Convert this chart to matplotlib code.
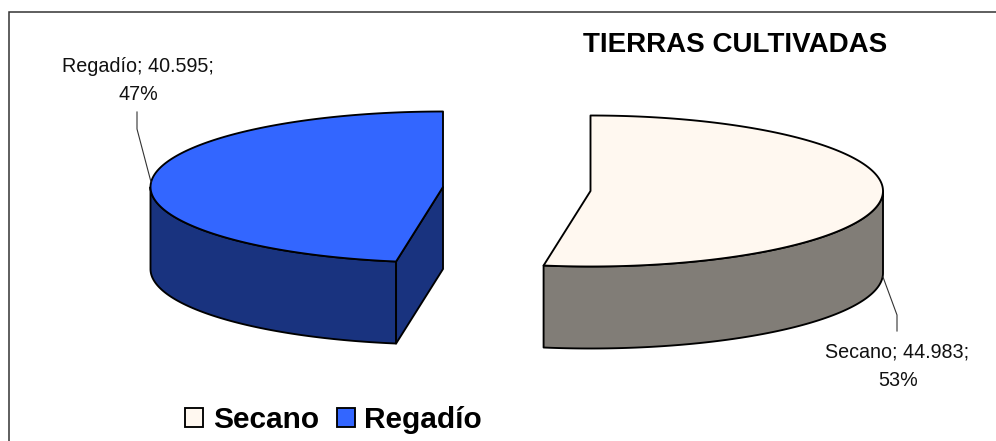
import numpy as np
import matplotlib
matplotlib.use("Agg")
import matplotlib.pyplot as plt
from matplotlib.patches import Polygon, Patch

# ---- data ----
categories = ["Secano", "Regadío"]
values = [44983, 40595]
value_labels = ["44.983", "40.595"]
percent_labels = ["53%", "47%"]
title = "TIERRAS CULTIVADAS"

# ---- style ----
top_colors = {"Secano": "#FFF8F0", "Regadío": "#3366FF"}
side_colors = {"Secano": "#817D77", "Regadío": "#19337F"}
centers = {"Secano": (590.5, 191.0), "Regadío": (443.0, 187.0)}
RX, RY, DEPTH = 292.5, 75.5, 82.0
EDGE = "#000000"
LW = 1.35

plt.rcParams["font.family"] = ["Liberation Sans", "DejaVu Sans"]
fig = plt.figure(figsize=(9.96, 4.41), dpi=100, facecolor="white")
ax = fig.add_axes([0, 0, 1, 1])
ax.set_xlim(0, 996)
ax.set_ylim(441, 0)
ax.axis("off")

# chart frame: only left and top edges are in view
ax.plot([8.5, 8.5, 996], [441, 12, 12], color="#333333", lw=1.1, solid_joinstyle="miter", clip_on=False)


def pt(center, t_deg, dz=0.0):
    t = np.radians(t_deg)
    return center[0] + RX * np.sin(t), center[1] - RY * np.cos(t) + dz


def arc(center, t0, t1, dz=0.0):
    ts = np.linspace(t0, t1, 160)
    x, y = pt(center, ts, dz)
    return np.column_stack([x, y])


total = sum(values)
boundary = 360.0 * values[0] / total

# ---- Secano: t from 0 to boundary ----
name = categories[0]
c = centers[name]
side = np.vstack([arc(c, 90, boundary), arc(c, boundary, 90, DEPTH)])
ax.add_patch(Polygon(side, closed=True, fc=side_colors[name], ec=EDGE, lw=LW, joinstyle="round"))
top = np.vstack([[c], arc(c, 0, boundary)])
ax.add_patch(Polygon(top, closed=True, fc=top_colors[name], ec=EDGE, lw=LW, joinstyle="round"))

# ---- Regadío: t from boundary to 360 ----
name = categories[1]
c = centers[name]
side = np.vstack([arc(c, boundary, 270), arc(c, 270, boundary, DEPTH)])
ax.add_patch(Polygon(side, closed=True, fc=side_colors[name], ec=EDGE, lw=LW, joinstyle="round"))
p_end = pt(c, boundary)
cut = [p_end, c, (c[0], c[1] + DEPTH), (p_end[0], p_end[1] + DEPTH)]
ax.add_patch(Polygon(cut, closed=True, fc=side_colors[name], ec=EDGE, lw=LW, joinstyle="round"))
top = np.vstack([[c], arc(c, boundary, 360)])
ax.add_patch(Polygon(top, closed=True, fc=top_colors[name], ec=EDGE, lw=LW, joinstyle="round"))

# ---- data labels and leader lines ----
LABEL_FS = 14.2
ax.text(138, 67, f"{categories[1]}; {value_labels[1]};", ha="center", va="center", fontsize=LABEL_FS, color="#111111")
ax.text(138, 95, percent_labels[1], ha="center", va="center", fontsize=LABEL_FS, color="#111111")
ax.plot([151, 137, 137], [182, 129, 112], color="#333333", lw=0.8)

ax.text(897, 352, f"{categories[0]}; {value_labels[0]};", ha="center", va="center", fontsize=LABEL_FS, color="#111111")
ax.text(898, 380, percent_labels[0], ha="center", va="center", fontsize=LABEL_FS, color="#111111")
ax.plot([883, 897, 897], [277, 315, 331], color="#333333", lw=0.8)

# ---- title ----
ax.text(735, 45, title, ha="center", va="center", fontsize=20, fontweight="bold", color="#000000")

# ---- legend ----
handles = [Patch(fc=top_colors[n], ec=EDGE, lw=LW, label=n) for n in categories]
ax.legend(handles=handles, ncol=2, loc="center", bbox_to_anchor=(333.5, 420),
          bbox_transform=ax.transData, frameon=False,
          prop={"size": 21.5, "weight": "bold"},
          handlelength=0.6, handleheight=0.6, handletextpad=0.33,
          columnspacing=0.6, borderpad=0, borderaxespad=0)

fig.savefig("out.png", dpi=100)
